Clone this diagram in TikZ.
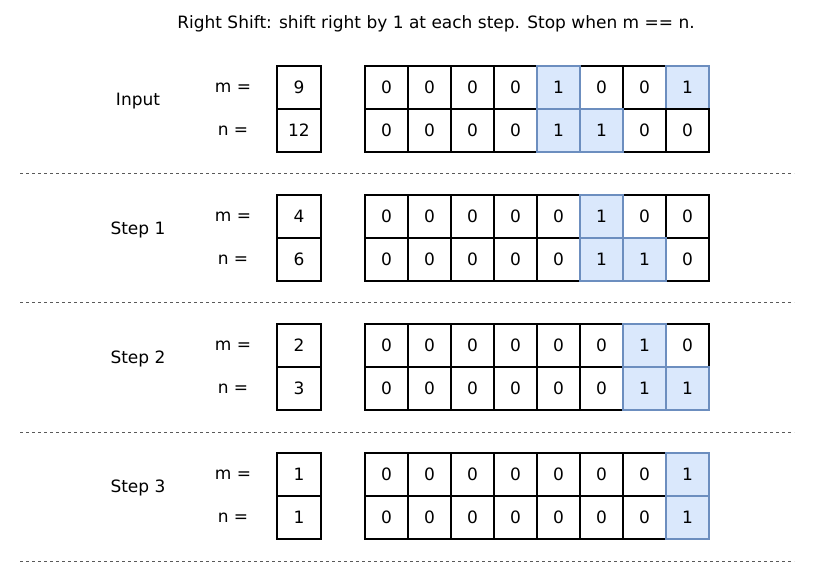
\documentclass[tikz,border=0pt]{standalone}
\usepackage{fontspec}
\setmainfont{DejaVu Sans}
\usetikzlibrary{positioning}
\definecolor{cellblue}{RGB}{218,232,252}
\definecolor{celledge}{RGB}{108,142,191}
\tikzstyle{cell} = [rectangle,draw=black,fill=white,line width=1.5pt,minimum width=43pt,minimum height=43pt,inner sep=0pt,font=\fontsize{17}{20}\selectfont]
\tikzstyle{one} = [cell,fill=cellblue,draw=celledge]
\tikzstyle{val} = [cell,minimum width=44pt]
\tikzstyle{lbl} = [font=\fontsize{17}{20}\selectfont]
\tikzstyle{sep} = [draw=black!65,line width=1pt,dash pattern=on 3pt off 3pt]

% one row of 8 bits, zeros first so the blue cells sit on top
\newcommand{\bitrow}[3]{%
  \foreach \b [count=\i from 0] in {#3} {
    \ifnum\b=0 \node[cell] (#1\i) at ({386.5+43*\i},#2) {0}; \fi
  }
  \foreach \b [count=\i from 0] in {#3} {
    \ifnum\b=1 \node[one] (#1\i) at ({386.5+43*\i},#2) {1}; \fi
  }
}

% name, label, top, m, n, bits of m, bits of n
\newcommand{\shiftstep}[7]{%
  \node[lbl] (#1) at (138,#3+35) {#2};
  \node[lbl] (#1m) at (233,#3+21.5) {m =};
  \node[lbl] (#1n) at (233,#3+64.5) {n =};
  \node[val] (#1mv) at (299,#3+21.5) {#4};
  \node[val] (#1nv) at (299,#3+64.5) {#5};
  \bitrow{#1a}{#3+21.5}{#6}
  \bitrow{#1b}{#3+64.5}{#7}
  \coordinate (#1l) at (20,#3+108);
  \coordinate (#1r) at (794,#3+108);
  \draw[sep] (#1l) -- (#1r);
}

\begin{document}
\begin{tikzpicture}[x=1pt,y=-1pt]
  \useasboundingbox (0,0) rectangle (830,577);

  \node[lbl] (title) at (436,24) {Right Shift: shift right by 1 at each step. Stop when m == n.};

  \shiftstep{in}{Input}{66}{9}{12}{0,0,0,0,1,0,0,1}{0,0,0,0,1,1,0,0}
  \shiftstep{sa}{Step 1}{195}{4}{6}{0,0,0,0,0,1,0,0}{0,0,0,0,0,1,1,0}
  \shiftstep{sb}{Step 2}{324}{2}{3}{0,0,0,0,0,0,1,0}{0,0,0,0,0,0,1,1}
  \shiftstep{sc}{Step 3}{453}{1}{1}{0,0,0,0,0,0,0,1}{0,0,0,0,0,0,0,1}

\end{tikzpicture}
\end{document}
